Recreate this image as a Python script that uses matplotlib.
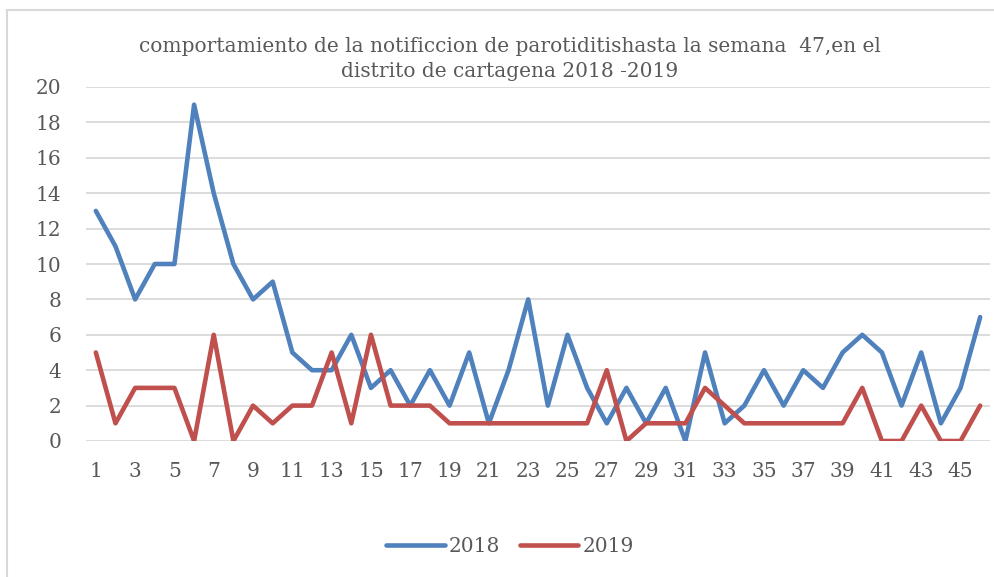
import matplotlib
matplotlib.use('Agg')
from matplotlib import pyplot as plt
from matplotlib.patches import Rectangle

# semanas epidemiologicas
semanas = list(range(1, 47))

# casos notificados por semana
casos_2018 = [13, 11, 8, 10, 10, 19, 14, 10, 8, 9, 5, 4, 4, 6, 3, 4, 2, 4, 2, 5,
              1, 4, 8, 2, 6, 3, 1, 3, 1, 3, 0, 5, 1, 2, 4, 2, 4, 3, 5, 6,
              5, 2, 5, 1, 3, 7]
casos_2019 = [5, 1, 3, 3, 3, 0, 6, 0, 2, 1, 2, 2, 5, 1, 6, 2, 2, 2, 1, 1,
              1, 1, 1, 1, 1, 1, 4, 0, 1, 1, 1, 3, 2, 1, 1, 1, 1, 1, 1, 3,
              0, 0, 2, 0, 0, 2]

titulo = 'comportamiento de la notificcion de parotiditishasta la semana  47,en el\ndistrito de cartagena 2018 -2019'

plt.rcParams['font.family'] = ['DejaVu Serif']
texto = '#595959'

fig = plt.figure(figsize=(9.94, 5.77), dpi=100)
# marco del grafico
fig.patches.append(Rectangle((7 / 994, -0.05), 1.1, 1 - 10 / 577 + 0.05,
                             transform=fig.transFigure, fill=False,
                             edgecolor='#D9D9D9', linewidth=1.5))

ax = fig.add_axes([86 / 994, 1 - 441 / 577, 904 / 994, 354 / 577])
ax.plot(semanas, casos_2018, color='#4F81BD', linewidth=3.3, label='2018',
        solid_joinstyle='round', solid_capstyle='round')
ax.plot(semanas, casos_2019, color='#C0504D', linewidth=3.3, label='2019',
        solid_joinstyle='round', solid_capstyle='round')

ax.set_xlim(0.5, 46.5)
ax.set_ylim(0, 20)
ax.set_yticks(range(0, 21, 2))
ax.set_xticks(semanas[::2])
ax.grid(axis='y', color='#D9D9D9', linewidth=1.3)
ax.set_axisbelow(True)
for s in ax.spines.values():
    s.set_visible(False)
ax.tick_params(length=0, labelsize=14.5, colors=texto)
ax.tick_params(axis='x', pad=15)
ax.tick_params(axis='y', pad=18)

fig.text(510 / 994, 1 - 59 / 577, titulo, ha='center', va='center',
         fontsize=14.5, color=texto, linespacing=1.45)

fig.legend(loc='center', bbox_to_anchor=(510 / 994, 1 - 547 / 577), ncol=2,
           frameon=False, fontsize=14.5, labelcolor=texto, handlelength=2.9,
           handletextpad=0.2, columnspacing=1.0)

fig.savefig('out.png', dpi=100)
